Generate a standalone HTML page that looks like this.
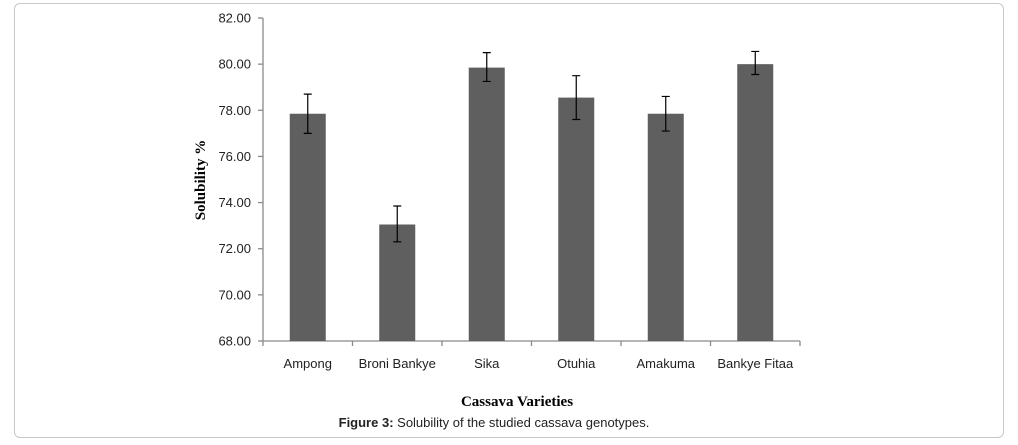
<!DOCTYPE html>
<html><head><meta charset="utf-8"><style>
body{margin:0;background:#fff;width:1018px;height:445px;overflow:hidden;font-family:"Liberation Sans",sans-serif}
#frame{position:absolute;left:14px;top:3px;width:988px;height:433px;border:1.5px solid #c8c8c8;border-radius:6px}
</style></head><body>
<div id="frame"></div>
<svg id="chart" width="1018" height="445" style="position:absolute;left:0;top:0"></svg>
<script>
const categories=["Ampong","Broni Bankye","Sika","Otuhia","Amakuma","Bankye Fitaa"];
const values=[77.85,73.05,79.85,78.55,77.85,80.0];
const errLow=[77.0,72.3,79.25,77.6,77.1,79.55];
const errHigh=[78.7,73.85,80.5,79.5,78.6,80.55];
const yTicks=[68,70,72,74,76,78,80,82];
const NS="http://www.w3.org/2000/svg";
const svg=document.getElementById('chart');
const x0=263,x1=800,yTop=18,yBot=341,yMin=68,yMax=82;
const band=(x1-x0)/categories.length;
const Y=v=>yBot-(v-yMin)/(yMax-yMin)*(yBot-yTop);
const X=i=>x0+band*(i+0.5);
function mk(t,a,txt){const e=document.createElementNS(NS,t);for(const k in a)e.setAttribute(k,a[k]);if(txt!==undefined)e.textContent=txt;svg.appendChild(e);return e;}
let e;
e=mk('line',{x1:x0,y1:yTop,x2:x0,y2:yBot,stroke:'#8a8a8a','stroke-width':1.3});


e=mk('line',{x1:x0,y1:yBot,x2:x1,y2:yBot,stroke:'#8a8a8a','stroke-width':1.3});


yTicks.forEach(v=>{
 const t=mk('line',{x1:x0-5,y1:Y(v),x2:x0,y2:Y(v),stroke:'#8a8a8a','stroke-width':1.3});
 
 
 const l=mk('text',{x:x0-12,y:Y(v)+4.5,'text-anchor':'end','font-size':13,fill:'#222'},v.toFixed(2));
 
 
});
for(let i=0;i<=categories.length;i++){
 const t=mk('line',{x1:x0+band*i,y1:yBot,x2:x0+band*i,y2:yBot+5,stroke:'#8a8a8a','stroke-width':1.3});
 
 
}
categories.forEach((c,i)=>{
 const bw=36;
 const b=mk('rect',{x:X(i)-bw/2,y:Y(values[i]),width:bw,height:yBot-Y(values[i]),fill:'#5f5f5f'});
 
 
 const g=mk('path',{d:`M${X(i)},${Y(errLow[i])}V${Y(errHigh[i])}M${X(i)-4},${Y(errLow[i])}h8M${X(i)-4},${Y(errHigh[i])}h8`,stroke:'#000','stroke-width':1.2,fill:'none'});
 
 
 const l=mk('text',{x:X(i),y:368,'text-anchor':'middle','font-size':13,fill:'#222'},c);
 
 
});
e=mk('text',{x:0,y:0,transform:`translate(205,180) rotate(-90)`,'text-anchor':'middle','font-size':15,'font-weight':'bold','font-family':'Liberation Serif, serif'},'Solubility  %');


e=mk('text',{x:517,y:406,'text-anchor':'middle','font-size':15,'font-weight':'bold','font-family':'Liberation Serif, serif'},'Cassava Varieties');


e=mk('text',{x:494,y:427,'text-anchor':'middle','font-size':13,fill:'#222'});


e.innerHTML='<tspan font-weight="bold">Figure 3:</tspan> Solubility of the studied cassava genotypes.';
</script>
</body></html>
